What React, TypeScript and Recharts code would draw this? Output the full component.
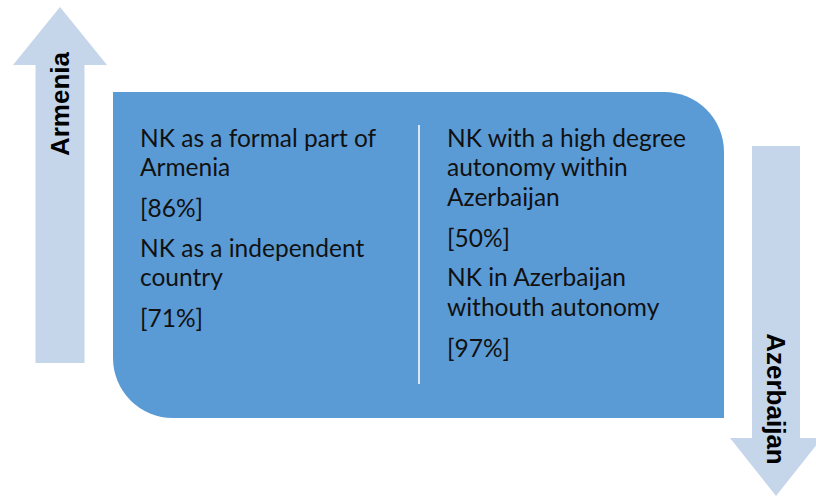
import React from "react";
import { ComposedChart, XAxis, YAxis, ReferenceArea, Scatter } from "recharts";

// ---- data ----
const sideLabels = ["Armenia", "Azerbaijan"];
const leftOptions = [["NK as a formal part of", "Armenia"], ["NK as a independent", "country"]];
const leftShares = [86, 71];
const rightOptions = [["NK with a high degree", "autonomy within", "Azerbaijan"], ["NK in Azerbaijan", "withouth autonomy"]];
const rightShares = [50, 97];

// ---- layout ----
const W = 816;
const H = 499;
const BOX_FILL = "#5B9BD5";
const ARROW_FILL = "#C5D5EA";
const TEXT_FONT = "Lato, 'Open Sans', sans-serif";
const TEXT_SIZE = 24.5;
const LINE_H = 29.7;
const VALUE_GAP = 41;
const ITEM_GAP = 39.5;

type Pt = { x: number; y: number; text: string };

function buildColumn(x: number, startY: number, options: string[][], shares: number[]): Pt[] {
  const out: Pt[] = [];
  let y = startY;
  options.forEach((lines, i) => {
    lines.forEach((l, j) => {
      if (j > 0) y += LINE_H;
      out.push({ x, y, text: l });
    });
    y += VALUE_GAP;
    out.push({ x, y, text: `[${shares[i]}%]` });
    y += ITEM_GAP;
  });
  return out;
}

const textPoints: Pt[] = [
  ...buildColumn(140, 137, leftOptions, leftShares),
  ...buildColumn(447, 137, rightOptions, rightShares),
];

const BoxShape = (props: any) => {
  const { x, y, width, height } = props;
  const r = 60;
  const x1 = x + width;
  const y1 = y + height;
  const d = `M${x},${y} H${x1 - r} A${r},${r} 0 0 1 ${x1},${y + r} V${y1} H${x + r} A${r},${r} 0 0 1 ${x},${y1 - r} Z`;
  return <path d={d} fill={BOX_FILL} />;
};

const makeArrow = (dir: "up" | "down", label: string, labelCenterFrac: number) => (props: any) => {
  const { x, y, width, height } = props;
  const head = 58;
  const shaftW = width * (49 / 94);
  const cx = x + width / 2;
  const sl = cx - shaftW / 2;
  const sr = cx + shaftW / 2;
  let pts: number[][];
  if (dir === "up") {
    pts = [[cx, y], [x + width, y + head], [sr, y + head], [sr, y + height], [sl, y + height], [sl, y + head], [x, y + head]];
  } else {
    const yb = y + height;
    pts = [[sl, y], [sr, y], [sr, yb - head], [x + width, yb - head], [cx, yb], [x, yb - head], [sl, yb - head]];
  }
  const ty = y + height * labelCenterFrac;
  const rot = dir === "up" ? -90 : 90;
  return (
    <g>
      <polygon points={pts.map((p) => p.join(",")).join(" ")} fill={ARROW_FILL} />
      <text
        x={cx}
        y={ty}
        transform={`rotate(${rot} ${cx} ${ty})`}
        textAnchor="middle"
        dominantBaseline="central"
        fontFamily="'Liberation Sans', Arial, sans-serif"
        fontWeight="bold"
        fontSize={26}
        fill="#000"
      >
        {label}
      </text>
    </g>
  );
};

const UpArrow = makeArrow("up", sideLabels[0], (104 - 7) / (363 - 7));
const DownArrow = makeArrow("down", sideLabels[1], (399 - 146) / (496 - 146));

const TextShape = (props: any) => {
  const { cx, cy, payload } = props;
  return (
    <text
      x={cx}
      y={cy}
      dominantBaseline="central"
      fontFamily={TEXT_FONT}
      fontSize={TEXT_SIZE}
      fill="#111"
    >
      {payload.text}
    </text>
  );
};

export default function App() {
  return (
    <div style={{ position: "absolute", left: 0, top: 0, width: W, height: H, background: "#fff" }}>
      <ComposedChart width={W} height={H} margin={{ top: 0, right: 0, bottom: 0, left: 0 }}>
        <XAxis type="number" dataKey="x" domain={[0, W]} hide allowDataOverflow />
        <YAxis type="number" dataKey="y" domain={[0, H]} reversed hide allowDataOverflow />
        <ReferenceArea x1={13} x2={107} y1={7} y2={363} ifOverflow="visible" shape={UpArrow} />
        <ReferenceArea x1={730} x2={822} y1={146} y2={496} ifOverflow="visible" shape={DownArrow} />
        <ReferenceArea x1={113} x2={724} y1={92} y2={418} ifOverflow="visible" shape={BoxShape} />
        <ReferenceArea
          x1={418}
          x2={420}
          y1={125}
          y2={384}
          ifOverflow="visible"
          fill="#DCE6F2"
          fillOpacity={1}
          stroke="none"
        />
        <Scatter data={textPoints} dataKey="y" isAnimationActive={false} shape={TextShape} />
      </ComposedChart>
    </div>
  );
}
